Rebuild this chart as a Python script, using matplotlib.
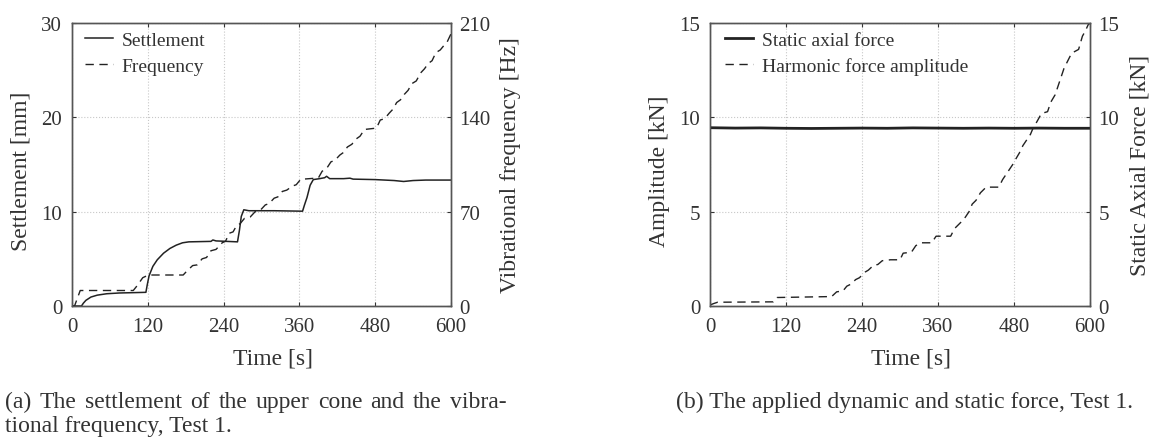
import matplotlib
matplotlib.use('Agg')
import matplotlib.pyplot as plt

plt.rcParams['font.family'] = ['Liberation Serif', 'DejaVu Serif']
plt.rcParams['text.color'] = '#333333'
plt.rcParams['axes.labelcolor'] = '#333333'
plt.rcParams['xtick.color'] = '#333333'
plt.rcParams['ytick.color'] = '#333333'

# (a) settlement of the upper cone [mm] and vibrational frequency [Hz]
settle_t = [0, 15, 18, 22, 30, 40, 55, 75, 100, 117, 119, 122, 128, 135, 145, 155,
            165, 175, 185, 220, 223, 228, 262, 265, 268, 272, 280, 320, 365, 368,
            372, 377, 382, 392, 400, 403, 408, 430, 440, 445, 480, 510, 525, 540,
            560, 600]
settle_mm = [0, 0, 0.3, 0.6, 0.95, 1.15, 1.3, 1.38, 1.42, 1.45, 2.2, 3.2, 4.2, 4.9,
             5.6, 6.1, 6.45, 6.7, 6.8, 6.85, 7.0, 6.9, 6.8, 8.0, 9.5, 10.2, 10.1,
             10.1, 10.05, 10.7, 11.5, 12.8, 13.4, 13.5, 13.6, 13.75, 13.5, 13.5,
             13.55, 13.45, 13.4, 13.3, 13.2, 13.3, 13.35, 13.35]

freq_t = [0, 4, 13, 97, 103, 112, 121, 176, 182, 191, 198, 206, 213, 220, 228, 238,
          243, 249, 255, 261, 266, 273, 282, 290, 298, 306, 312, 320, 326, 333, 340,
          349, 355, 362, 390, 396, 403, 410, 416, 424, 430, 436, 443, 450, 456, 463,
          482, 488, 495, 502, 508, 514, 520, 526, 532, 538, 545, 552, 558, 564, 570,
          576, 583, 590, 594, 600]
freq_hz = [0, 0, 11.5, 11.5, 15, 21, 23, 23, 26, 30, 30.5, 35, 36, 41, 42, 47, 48,
           54, 55, 60, 61, 65, 66, 70, 71, 75, 76, 80, 81, 85, 86, 89, 90, 94, 95,
           100, 102, 107, 108, 112, 114, 118, 120, 124, 126, 131, 132, 138, 139, 143,
           146, 151, 153, 157, 160, 165, 167, 173, 176, 180, 182, 188, 190, 194, 196,
           202]

# (b) harmonic force amplitude and static axial force [kN]
harm_t = [0, 5, 12, 100, 106, 192, 200, 210, 216, 222, 230, 236, 245, 250, 258, 265,
          272, 285, 300, 305, 318, 325, 333, 350, 357, 380, 386, 392, 398, 403, 409,
          414, 420, 427, 436, 456, 462, 468, 474, 480, 483, 490, 494, 500, 506, 511,
          515, 520, 523, 533, 538, 545, 550, 555, 559, 565, 571, 582, 588, 593, 597,
          600]
harm_kn = [0.05, 0.12, 0.2, 0.22, 0.45, 0.5, 0.75, 0.8, 1.05, 1.15, 1.4, 1.5, 1.8,
           1.9, 2.15, 2.2, 2.4, 2.45, 2.45, 2.8, 2.85, 3.2, 3.35, 3.35, 3.7, 3.7,
           4.1, 4.3, 4.5, 4.7, 5.0, 5.4, 5.6, 6.0, 6.3, 6.3, 6.7, 7.0, 7.3, 7.6, 7.8,
           8.2, 8.5, 8.8, 9.1, 9.5, 9.7, 10.0, 10.2, 10.3, 10.8, 11.2, 11.7, 12.2,
           12.6, 13.0, 13.4, 13.6, 14.3, 14.6, 14.9, 15.0]

static_t = [0, 40, 80, 120, 160, 200, 240, 280, 320, 360, 400, 440, 480, 520, 560, 600]
static_kn = [9.45, 9.43, 9.44, 9.42, 9.41, 9.42, 9.43, 9.42, 9.44, 9.43, 9.42, 9.43,
             9.42, 9.43, 9.42, 9.42]

time_ticks = [0, 120, 240, 360, 480, 600]

line_col = '#222222'
dash = (0, (6, 4))
W, H = 1161, 439

fig = plt.figure(figsize=(W / 100, H / 100), dpi=100)


def style(ax, axr):
    for a in (ax, axr):
        for s in a.spines.values():
            s.set_color('#555555')
            s.set_linewidth(1.0)
    ax.set_xlim(0, 600)
    ax.set_xticks(time_ticks)
    ax.tick_params(axis='x', direction='in', length=3, labelsize=15, pad=8, top=True)
    ax.tick_params(axis='y', direction='in', length=3, labelsize=15, pad=7)
    axr.tick_params(axis='y', direction='in', length=3, labelsize=15, pad=6)
    ax.grid(True, linestyle=':', color='#c8c8c8', linewidth=0.8)
    ax.set_xlabel('Time [s]', fontsize=17)
    ax.xaxis.set_label_coords(0.53, -0.148)


# ---- (a)
ax1 = fig.add_axes([72 / W, 132 / H, 379 / W, 283 / H])
ax1r = ax1.twinx()
l1, = ax1.plot(settle_t, settle_mm, color=line_col, lw=1.1, label='Settlement')
l2, = ax1r.plot(freq_t, freq_hz, color=line_col, lw=1.0, linestyle=dash, label='Frequency')
ax1.set_ylim(0, 30)
ax1.set_yticks([0, 10, 20, 30])
ax1r.set_ylim(0, 210)
ax1r.set_yticks([0, 70, 140, 210])
style(ax1, ax1r)
ax1.set_ylabel('Settlement [mm]', fontsize=17)
ax1r.set_ylabel('Vibrational frequency [Hz]', fontsize=17)
ax1.yaxis.set_label_coords(-0.106, 0.48)
ax1r.yaxis.set_label_coords(1.128, 0.5)
ax1r.legend(handles=[l1, l2], loc='upper left', bbox_to_anchor=(0.034, 0.972),
            frameon=False, fontsize=14, handlelength=1.45, handletextpad=0.45,
            labelspacing=0.45, borderaxespad=0, borderpad=0)

# ---- (b)
ax2 = fig.add_axes([710 / W, 132 / H, 380 / W, 283 / H])
ax2r = ax2.twinx()
l3, = ax2r.plot(static_t, static_kn, color=line_col, lw=2.0, label='Static axial force')
l4, = ax2.plot(harm_t, harm_kn, color=line_col, lw=1.0, linestyle=dash,
               label='Harmonic force amplitude')
ax2.set_ylim(0, 15)
ax2.set_yticks([0, 5, 10, 15])
ax2r.set_ylim(0, 15)
ax2r.set_yticks([0, 5, 10, 15])
style(ax2, ax2r)
ax2.set_ylabel('Amplitude [kN]', fontsize=17)
ax2r.set_ylabel('Static Axial Force [kN]', fontsize=17)
ax2.yaxis.set_label_coords(-0.106, 0.48)
ax2r.yaxis.set_label_coords(1.103, 0.5)
ax2r.legend(handles=[l3, l4], loc='upper left', bbox_to_anchor=(0.04, 0.972),
            frameon=False, fontsize=14, handlelength=1.45, handletextpad=0.45,
            labelspacing=0.45, borderaxespad=0, borderpad=0)

# ---- captions
cap_size = 17
renderer = fig.canvas.get_renderer()


def justified(words, x0, x1, y):
    texts = [fig.text(0, y / H, w, fontsize=cap_size, va='baseline') for w in words]
    widths = [t.get_window_extent(renderer).width for t in texts]
    gap = (x1 - x0 - sum(widths)) / (len(words) - 1)
    x = x0
    for t, w in zip(texts, widths):
        t.set_x(x / W)
        x += w + gap


justified('(a) The settlement of the upper cone and the vibra-'.split(), 5, 507, H - 408)
fig.text(5 / W, (H - 432) / H, 'tional frequency, Test 1.', fontsize=cap_size, va='baseline')
fig.text(905 / W, (H - 408) / H, '(b) The applied dynamic and static force, Test 1.',
         fontsize=cap_size, va='baseline', ha='center')

fig.savefig('out.png', dpi=100)
